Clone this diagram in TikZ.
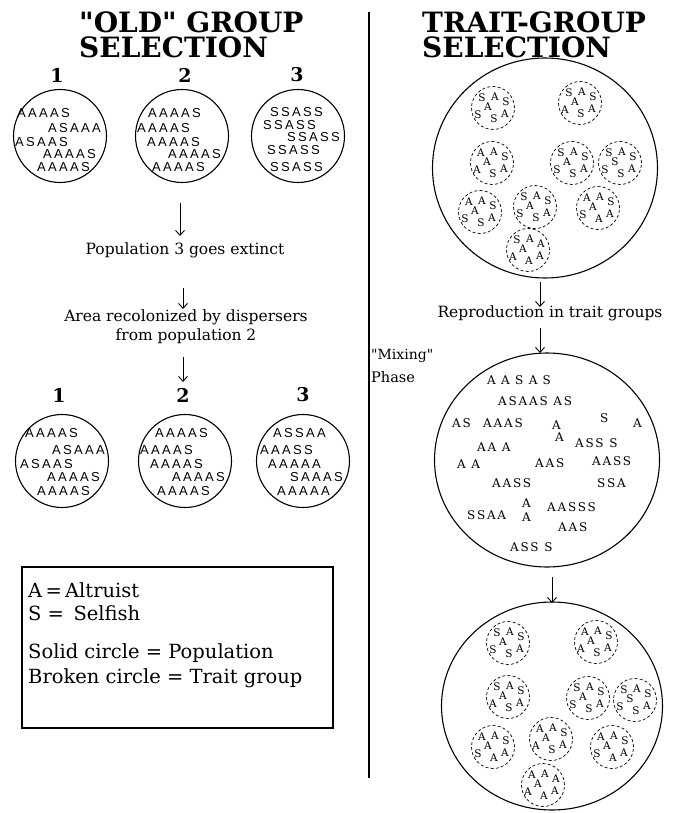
\documentclass[tikz,border=0pt]{standalone}
\usepackage{fontspec}
\setmainfont{DejaVu Serif}
\newfontfamily\plainfont{DejaVu Serif}[Ligatures=TeXOff]
\newfontfamily\popfont{Liberation Sans}[LetterSpace=18]
\newfontfamily\mixfont{DejaVu Serif}[LetterSpace=15]
\usetikzlibrary{arrows.meta,shapes.geometric}
\def\tgroup(#1,#2)#3#4#5#6#7#8#9{%
  \node[tgc] (g#1x#2) at (#1,#2) {};
  \node[tgl] (g#1x#2a) at ({#1-11},{#2-10}) {#3};
  \node[tgl] (g#1x#2b) at ({#1+2},{#2-11}) {#4};
  \node[tgl] (g#1x#2c) at ({#1+13},{#2-6}) {#5};
  \node[tgl] (g#1x#2d) at ({#1-5},{#2-1}) {#6};
  \node[tgl] (g#1x#2e) at ({#1-15},{#2+7}) {#7};
  \node[tgl] (g#1x#2f) at ({#1+1},{#2+11}) {#8};
  \node[tgl] (g#1x#2g) at ({#1+12},{#2+6}) {#9};
}
\begin{document}
\begin{tikzpicture}[x=1pt,y=-1pt,
  pop/.style={circle,draw,line width=1.1pt,minimum size=93pt,inner sep=0},
  big/.style={ellipse,draw,line width=1.1pt,inner sep=0},
  tgc/.style={circle,draw,dash pattern=on 3pt off 2.2pt,line width=0.7pt,minimum size=43pt,inner sep=0},
  tgl/.style={font=\fontsize{10.5}{10.5}\selectfont,inner sep=0,text height=6.5pt,text depth=0pt},
  poptxt/.style={font=\popfont\fontsize{13}{13}\selectfont,anchor=west,inner sep=0},
  arr/.style={-{Straight Barb[length=5pt,width=9pt]},line width=0.9pt},
  title/.style={font=\plainfont\fontsize{28}{25}\selectfont\bfseries,anchor=west,align=left,inner sep=0},
  num/.style={font=\fontsize{19}{19}\selectfont\bfseries,inner sep=0},
  body/.style={font=\fontsize{15.5}{19}\selectfont,align=center,inner sep=0},
  mix/.style={font=\mixfont\fontsize{12}{12}\selectfont,anchor=west,inner sep=0,text height=8.5pt,text depth=0pt},
  leg/.style={font=\fontsize{19.5}{21}\selectfont,anchor=west,inner sep=0}]
\useasboundingbox (0,0) rectangle (673,813);

% titles
\node[title] (tl) at (79,34.5) {"OLD" GROUP\\SELECTION};
\node[title] (tr) at (422,34.5) {TRAIT-GROUP\\SELECTION};

% divider
\coordinate (vt) at (369,12);
\coordinate (vb) at (369,778);
\draw[line width=1.1pt] (vt) -- (vb);

% top numbers and populations
\node[num] (n1) at (57,75) {1};
\node[num] (n2) at (185,75) {2};
\node[num] (n3) at (297,75) {3};
\node[pop] (p1) at (60,136) {};
\node[pop] (p2) at (182,136) {};
\node[pop] (p3) at (298,136) {};
\node[poptxt] (p1a) at (17,113) {AAAAS};
\node[poptxt] (p1b) at (48,128) {ASAAA};
\node[poptxt] (p1c) at (15,142) {ASAAS};
\node[poptxt] (p1d) at (43,154) {AAAAS};
\node[poptxt] (p1e) at (37,167) {AAAAS};
\node[poptxt] (p2a) at (148,113) {AAAAS};
\node[poptxt] (p2b) at (137,128) {AAAAS};
\node[poptxt] (p2c) at (147,142) {AAAAS};
\node[poptxt] (p2d) at (168,154) {AAAAS};
\node[poptxt] (p2e) at (152,167) {AAAAS};
\node[poptxt] (p3a) at (270,112) {SSASS};
\node[poptxt] (p3b) at (263,125) {SSASS};
\node[poptxt] (p3c) at (287,137) {SSASS};
\node[poptxt] (p3d) at (267,150) {SSASS};
\node[poptxt] (p3e) at (270,167) {SSASS};

% left flow
\node[body] (t1) at (185,250) {Population 3 goes extinct};
\node[body] (t2) at (186,327) {Area recolonized by dispersers\\from population 2};
\coordinate (a1s) at (180,203);
\coordinate (a1e) at (180,236);
\coordinate (a2s) at (183,288);
\coordinate (a2e) at (183,309);
\coordinate (a3s) at (183,357);
\coordinate (a3e) at (183,382);
\draw[arr] (a1s) -- (a1e);
\draw[arr] (a2s) -- (a2e);
\draw[arr] (a3s) -- (a3e);

% bottom numbers and populations
\node[num] (m1) at (59,395) {1};
\node[num] (m2) at (183,395) {2};
\node[num] (m3) at (303,395) {3};
\node[pop] (q1) at (62,461) {};
\node[pop] (q2) at (185,461) {};
\node[pop] (q3) at (303,461) {};
\node[poptxt] (q1a) at (25,433) {AAAAS};
\node[poptxt] (q1b) at (52,450) {ASAAA};
\node[poptxt] (q1c) at (20,464) {ASAAS};
\node[poptxt] (q1d) at (47,477) {AAAAS};
\node[poptxt] (q1e) at (37,491) {AAAAS};
\node[poptxt] (q2a) at (155,433) {AAAAS};
\node[poptxt] (q2b) at (140,450) {AAAAS};
\node[poptxt] (q2c) at (150,464) {AAAAS};
\node[poptxt] (q2d) at (172,477) {AAAAS};
\node[poptxt] (q2e) at (157,491) {AAAAS};
\node[poptxt] (q3a) at (273,433) {ASSAA};
\node[poptxt] (q3b) at (260,450) {AAASS};
\node[poptxt] (q3c) at (268,464) {AAAAA};
\node[poptxt] (q3d) at (290,477) {SAAAS};
\node[poptxt] (q3e) at (277,491) {AAAAA};

% legend
\node[draw,line width=1.1pt,minimum width=311pt,minimum height=161pt,inner sep=0] (legbox) at (177.5,647.5) {};
\node[leg] (l1) at (28,590) {A\,=\,Altruist};
\node[leg] (l2) at (28,613) {S = \,Selfish};
\node[leg] (l3) at (28,653) {Solid circle = Population};
\node[leg] (l4) at (28,678) {Broken circle = Trait group};

% right: top population with trait groups
\node[big,minimum width=225pt,minimum height=220pt] (T) at (545,168) {};
\tgroup(493,108)SASASSA
\tgroup(580,103)SASAASA
\tgroup(492,163)AASAASA
\tgroup(572,163)SASASSA
\tgroup(620,163)SASSSSA
\tgroup(480,212)AASASSA
\tgroup(535,207)SASASSA
\tgroup(598,208)AASASAA
\tgroup(528,250)SAAAAAA

\node[body] (tR) at (550,313) {Reproduction in trait groups};
\coordinate (b1s) at (540,282);
\coordinate (b1e) at (540,307);
\coordinate (b2s) at (540,328);
\coordinate (b2e) at (540,353);
\draw[arr] (b1s) -- (b1e);
\draw[arr] (b2s) -- (b2e);

% mixing phase
\node[font=\plainfont\fontsize{14}{16}\selectfont,anchor=west,inner sep=0] (mx1) at (371,356) {"Mixing"};
\node[font=\fontsize{14.5}{16}\selectfont,anchor=west,inner sep=0] (mx2) at (371,377) {Phase};
\node[big,minimum width=225pt,minimum height=214pt] (M) at (547,460) {};
\node[mix] (x1) at (487,380) {A\;\,A\;\,S\;\,A\;\,S};
\node[mix] (x2) at (498,401) {ASAAS AS};
\node[mix] (x3) at (452,423) {AS};
\node[mix] (x4) at (483,423) {AAAS};
\node[mix] (x5) at (552,425) {A};
\node[mix] (x6) at (600,418) {S};
\node[mix] (x7) at (633,423) {A};
\node[mix] (x8) at (555,437) {A};
\node[mix] (x9) at (477,447) {AA A};
\node[mix] (x10) at (575,443) {ASS S};
\node[mix] (x11) at (457,464) {A A};
\node[mix] (x12) at (535,463) {AAS};
\node[mix] (x13) at (592,461) {AASS};
\node[mix] (x14) at (492,483) {AASS};
\node[mix] (x15) at (597,483) {SSA};
\node[mix] (x16) at (522,503) {A};
\node[mix] (x17) at (547,507) {AASSS};
\node[mix] (x18) at (467,515) {SSAA};
\node[mix] (x19) at (522,517) {A};
\node[mix] (x20) at (558,527) {AAS};
\node[mix] (x21) at (510,547) {ASS S};

\coordinate (b3s) at (552,577);
\coordinate (b3e) at (552,603);
\draw[arr] (b3s) -- (b3e);

% bottom population with trait groups
\node[big,minimum width=221pt,minimum height=208pt] (B) at (552,706) {};
\tgroup(508,643)SASASSA
\tgroup(596,642)AASAASA
\tgroup(508,697)SASAASA
\tgroup(588,698)SASASSA
\tgroup(635,700)SASSSSA
\tgroup(493,747)AASASAA
\tgroup(551,739)AASAASA
\tgroup(612,747)AASASAA
\tgroup(543,785)AAAAAAA
\end{tikzpicture}
\end{document}
